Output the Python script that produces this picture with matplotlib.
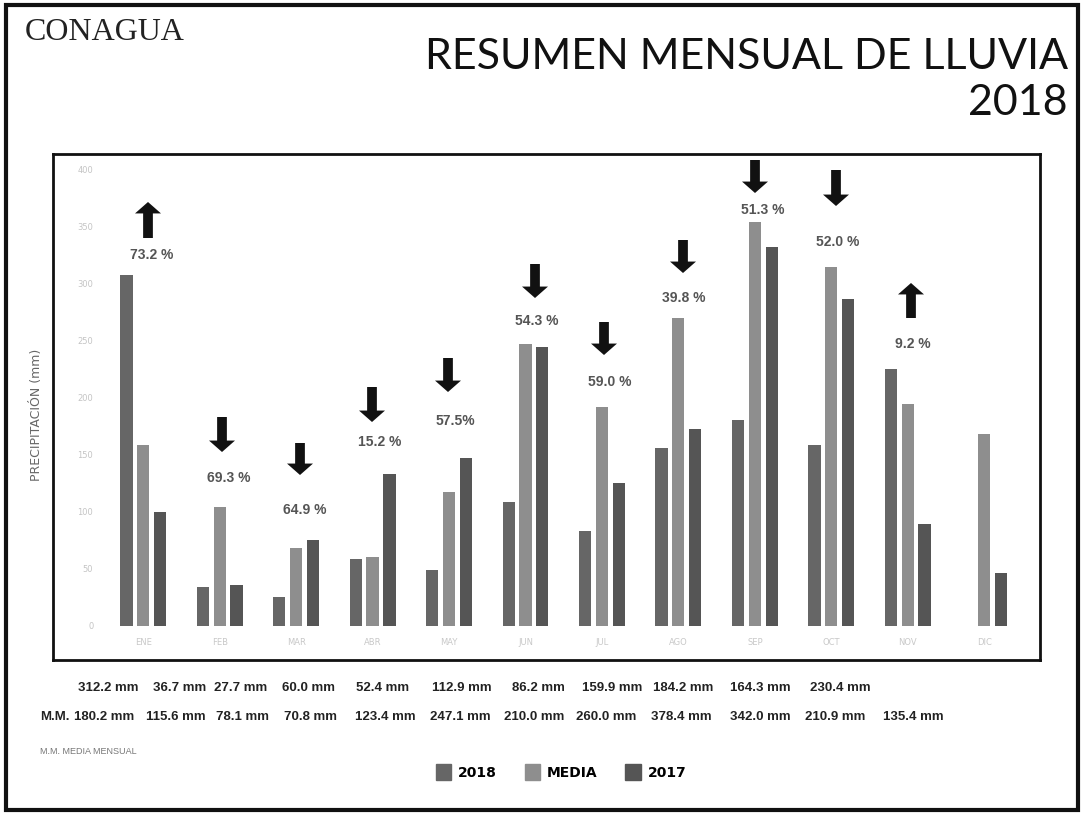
import numpy as np
import matplotlib.pyplot as plt
from matplotlib.patches import Rectangle, Patch, FancyArrow

# --- datos ---
meses = ['ENE', 'FEB', 'MAR', 'ABR', 'MAY', 'JUN', 'JUL', 'AGO', 'SEP', 'OCT', 'NOV', 'DIC']
lluvia_2018 = [308, 34, 25, 59, 49, 109, 83, 156, 181, 159, 225, np.nan]
lluvia_media = [159, 104, 68, 60, 117, 247, 192, 270, 354, 315, 195, 168]
lluvia_2017 = [100, 36, 75, 133, 147, 245, 125, 173, 332, 287, 89, 46]

porcentajes = ['73.2 %', '69.3 %', '64.9 %', '15.2 %', '57.5%', '54.3 %', '59.0 %',
               '39.8 %', '51.3 %', '52.0 %', '9.2 %']
sube = [True, False, False, False, False, False, False, False, False, False, True]

txt_2018 = ['312.2 mm', '36.7 mm', '27.7 mm', '60.0 mm', '52.4 mm', '112.9 mm', '86.2 mm',
            '159.9 mm', '184.2 mm', '164.3 mm', '230.4 mm']
txt_media = ['180.2 mm', '115.6 mm', '78.1 mm', '70.8 mm', '123.4 mm', '247.1 mm', '210.0 mm',
             '260.0 mm', '378.4 mm', '342.0 mm', '210.9 mm', '135.4 mm']

W, H = 1083, 817
fig = plt.figure(figsize=(W / 100, H / 100), dpi=100)

def fx(px):
    return px / W

def fy(py):
    return 1 - py / H

# borde exterior
fig.patches.append(Rectangle((fx(6), fy(810)), fx(1078) - fx(6), fy(5) - fy(810),
                             transform=fig.transFigure, fill=False, lw=3, ec='#111'))

ax = fig.add_axes([fx(53), fy(660), fx(1040 - 53), fy(154) - fy(660)])
x = np.arange(len(meses))
ax.bar(x - 0.22, lluvia_2018, 0.16, color='#666666', label='2018')
ax.bar(x, lluvia_media, 0.16, color='#8e8e8e', label='MEDIA')
ax.bar(x + 0.22, lluvia_2017, 0.16, color='#555555', label='2017')

ax.set_xlim(-1.18, 11.73)
ax.set_ylim(-30, 414)
for s in ax.spines.values():
    s.set_linewidth(2)
    s.set_color('#111')

ax.set_xticks([])
ax.set_yticks(np.arange(0, 401, 50))
ax.tick_params(axis='y', length=0, pad=-29, labelsize=6, labelcolor='#c4c4c4')
for lab in ax.get_yticklabels():
    lab.set_horizontalalignment('right')
for i, m in enumerate(meses):
    ax.text(i, -15, m, ha='center', va='center', fontsize=6, color='#c8c8c8')

# flechas y porcentajes
flecha_px = [(148, 238, 202, 255), (222, 417, 452, 478), (300, 443, 475, 510),
             (372, 387, 422, 442), (448, 358, 392, 421), (535, 264, 298, 321),
             (604, 322, 355, 382), (683, 240, 273, 298), (755, 160, 193, 210),
             (836, 170, 206, 242), (911, 318, 283, 344)]
txt_dx = [4, 7, 5, 8, 7, 2, 6, 1, 8, 2, 2]
for (px, y0, y1, ty), p, up, dx in zip(flecha_px, porcentajes, sube, txt_dx):
    fig.add_artist(FancyArrow(
        fx(px), fy(y0), 0, fy(y1) - fy(y0), width=0.009, head_width=0.024,
        head_length=0.014, length_includes_head=True, transform=fig.transFigure,
        color='#111', lw=0))
    fig.text(fx(px + dx), fy(ty), p, ha='center', va='center', fontsize=10,
             color='#555555', fontweight='bold', family='Liberation Sans')

# titulos
fig.text(fx(25), fy(33), 'CONAGUA', fontsize=23, family='Liberation Serif',
         va='center', ha='left', color='#222')
fig.text(fx(1068), fy(57), 'RESUMEN MENSUAL DE LLUVIA', fontsize=31, family='Lato',
         ha='right', va='center', color='#111')
fig.text(fx(1068), fy(103), '2018', fontsize=31, family='Lato',
         ha='right', va='center', color='#111')
fig.text(fx(37), fy(415), 'PRECIPITACIÓN (mm)', rotation=90, fontsize=9,
         color='#666', ha='center', va='center')

# filas de valores
x_fila1 = [108, 180, 241, 308, 383, 462, 538, 612, 683, 760, 840]
x_fila2 = [104, 176, 243, 310, 385, 460, 534, 606, 681, 760, 835, 913]
for xp, t in zip(x_fila1, txt_2018):
    fig.text(fx(xp), fy(688), t, ha='center', va='center', fontsize=9.5,
             fontweight='bold', color='#222', family='Liberation Sans')
fig.text(fx(55), fy(717), 'M.M.', ha='center', va='center', fontsize=9.5,
         fontweight='bold', color='#222', family='Liberation Sans')
for xp, t in zip(x_fila2, txt_media):
    fig.text(fx(xp), fy(717), t, ha='center', va='center', fontsize=9.5,
             fontweight='bold', color='#222', family='Liberation Sans')
fig.text(fx(40), fy(752), 'M.M. MEDIA MENSUAL', ha='left', va='center', fontsize=6.5,
         color='#777', family='Liberation Sans')

handles = [Patch(color='#666666'), Patch(color='#8e8e8e'), Patch(color='#555555')]
fig.legend(handles, ['2018', 'MEDIA', '2017'], loc='center', ncol=3,
           bbox_to_anchor=(fx(561), fy(772)), frameon=False,
           prop={'weight': 'bold', 'size': 10}, handlelength=1.1, handleheight=1.3,
           columnspacing=2.0, handletextpad=0.5)

fig.savefig('out.png', dpi=100)
